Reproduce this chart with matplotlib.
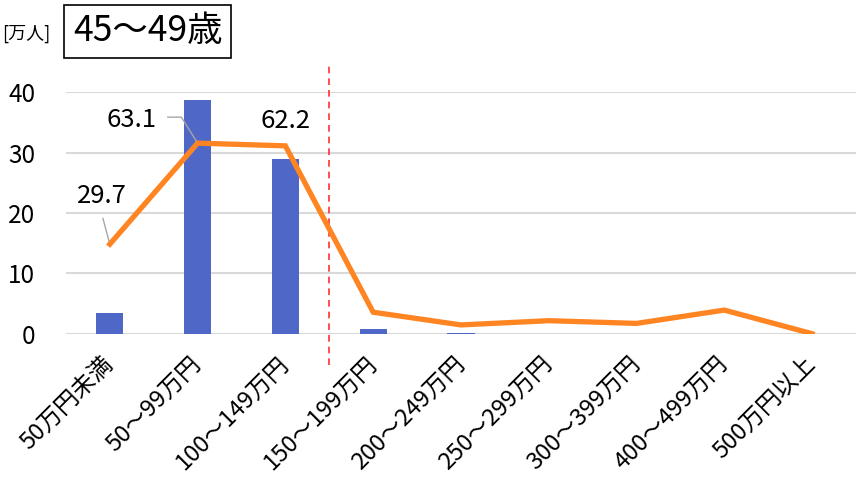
import numpy as np
import matplotlib.pyplot as plt

plt.rcParams['font.family'] = ['Noto Sans CJK JP', 'DejaVu Sans']

# categories and values
categories = ['50万円未満', '50〜99万円', '100〜149万円', '150〜199万円', '200〜249万円',
              '250〜299万円', '300〜399万円', '400〜499万円', '500万円以上']
bar_vals = [3.4, 38.6, 28.9, 0.9, 0.2, 0.0, 0.0, 0.0, 0.0]
line_vals = [29.7, 63.1, 62.2, 7.2, 3.0, 4.4, 3.5, 7.9, 0.1]
yticks = [0, 10, 20, 30, 40]

x = np.arange(len(categories))

fig = plt.figure(figsize=(8.56, 4.83), dpi=100)
ax = fig.add_axes([0.077, 0.3085, 0.923, 0.501])

ax.bar(x, bar_vals, width=0.31, color='#4F68C8', zorder=2)
ax.set_xlim(-0.5, len(categories) - 0.5)
ax.set_ylim(0, 40)
ax.set_yticks(yticks)
ax.yaxis.grid(True, color='#D9D9D9', linewidth=1.5, zorder=0)
ax.set_axisbelow(True)
for s in ax.spines.values():
    s.set_visible(False)
ax.tick_params(axis='y', length=0, pad=22, labelsize=17.5)
ax.tick_params(axis='x', length=0, pad=19)
ax.set_xticks(x)
ax.set_xticklabels(categories, rotation=45, ha='right', va='center',
                   rotation_mode='anchor', fontsize=17)

# divider between 100-149 and 150-199
ax.axvline(2.5, ymin=-0.13, ymax=1.11, color='#FF3030', linestyle=(0, (4, 3)),
           linewidth=1.2, clip_on=False, zorder=3)

# line on hidden secondary scale (0-80)
ax2 = ax.twinx()
ax2.set_ylim(0, 80)
ax2.axis('off')
ax2.plot(x, line_vals, color='#FF8422', linewidth=3.8, solid_joinstyle='miter', zorder=4)

grey = '#A6A6A6'
# data labels for the first three points
ax2.annotate(f'{line_vals[0]}', (x[0], line_vals[0]), xytext=(-6, 35),
             textcoords='offset points', ha='center', va='center', fontsize=18.5)
ax2.annotate('', (x[0], line_vals[0]), xytext=(-5, 18.7), textcoords='offset points',
             arrowprops=dict(arrowstyle='-', color=grey, lw=1, shrinkA=0, shrinkB=0))
ax2.annotate(f'{line_vals[1]}', (x[1], line_vals[1]), xytext=(-47.5, 17),
             textcoords='offset points', ha='center', va='center', fontsize=18.5)
ax2.annotate('', (x[1], line_vals[1]), xytext=(-21.6, 18.7), textcoords='offset points',
             arrowprops=dict(arrowstyle='-', color=grey, lw=1, shrinkA=0, shrinkB=0,
                             connectionstyle='angle,angleA=0,angleB=122,rad=0'))
ax2.annotate(f'{line_vals[2]}', (x[2], line_vals[2]), xytext=(0, 18),
             textcoords='offset points', ha='center', va='center', fontsize=18.5)

# title box and unit
fig.text(0.0025, 0.93, '[万人]', fontsize=13, va='center', ha='left')
fig.text(0.085, 0.935, '45〜49歳', fontsize=25.5, va='center', ha='left',
         bbox=dict(boxstyle='square,pad=0.25', facecolor='white', edgecolor='black', linewidth=1.2))

fig.savefig('out.png', dpi=100)
